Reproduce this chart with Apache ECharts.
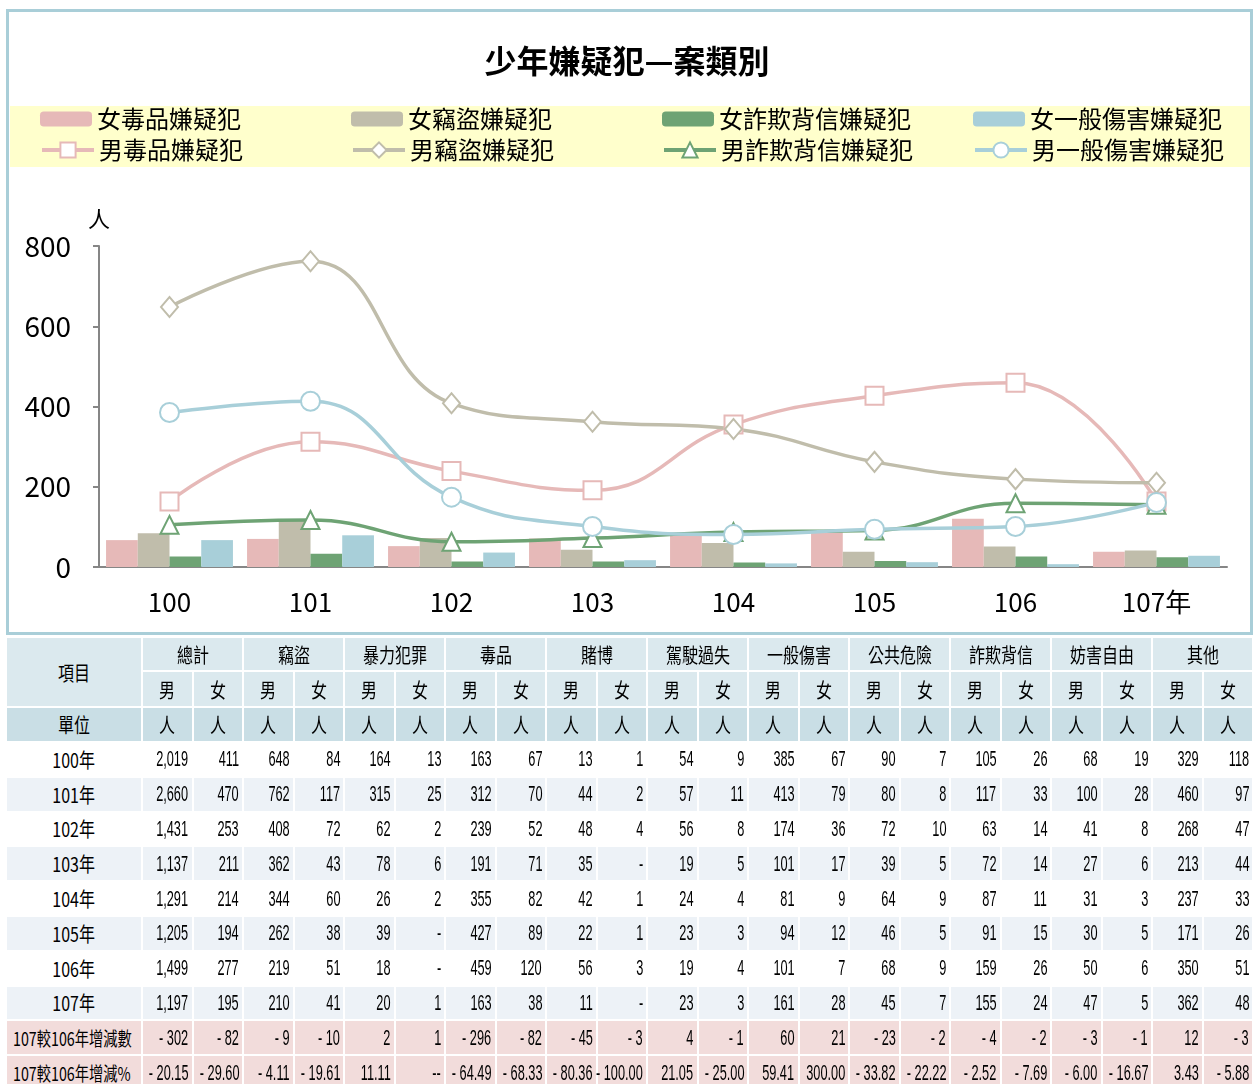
<!DOCTYPE html>
<html>
<head>
<meta charset="utf-8">
<script src="https://cdn.jsdelivr.net/npm/echarts@6/dist/echarts.min.js"></script>
<style>
  body { margin: 0; width: 1254px; height: 1084px; overflow: hidden; background: #fff; position: relative; }
  #chart { position: absolute; left: 0; top: 0; width: 1254px; height: 636px; }
  #frame { position: absolute; left: 6px; top: 9px; width: 1247px; height: 626px; border: 3px solid #a9ced8; box-sizing: border-box; pointer-events: none; }
  #tbl { position: absolute; left: 5px; top: 636px; border-collapse: collapse; table-layout: fixed; width: 1249px; color: #000; }
  #tbl td { border: 2px solid #fff; padding: 0; overflow: visible; white-space: nowrap; }
  #tbl .c { display: flex; justify-content: center; }
  #tbl .r { display: flex; justify-content: flex-end; padding-right: 3px; }
  #tbl .l { display: flex; justify-content: flex-start; padding-left: 6px; }
  #tbl span { display: inline-block; flex-shrink: 0; }
  .cjk { font-family: 'Noto Sans CJK TC', sans-serif; font-size: 20px; transform: scaleX(0.8); }
  .num { font-family: 'Liberation Sans', sans-serif; font-size: 22px; transform: scaleX(0.58); transform-origin: right center; }
  .lab { font-family: 'Noto Sans CJK TC', sans-serif; font-size: 19px; transform: scaleX(0.75); transform-origin: left center; }
  tr.hd td { background: #dbe9ee; }
  tr.unit td { background: #c9dee5; }
  tr.odd td { background: #ffffff; border-color: #e4eef2; }
  tr.even td { background: #edf2f7; }
  tr.diff td { background: #f2dcdb; }
</style>
</head>
<body>
<div id="chart"></div>
<div id="frame"></div>
<table id="tbl"></table>
<script>
// chart data (persons)
const years = ['100', '101', '102', '103', '104', '105', '106', '107年'];
const femaleDrug = [67, 70, 52, 71, 82, 89, 120, 38];
const femaleTheft = [84, 117, 72, 43, 60, 38, 51, 41];
const femaleFraud = [26, 33, 14, 14, 11, 15, 26, 24];
const femaleInjury = [67, 79, 36, 17, 9, 12, 7, 28];
const maleDrug = [163, 312, 239, 191, 355, 427, 459, 163];
const maleTheft = [648, 762, 408, 362, 344, 262, 219, 210];
const maleFraud = [105, 117, 63, 72, 87, 91, 159, 155];
const maleInjury = [385, 413, 174, 101, 81, 94, 101, 161];
const yTicks = [0, 200, 400, 600, 800];

// table data, null = '-'
const tableCats = ['總計', '竊盜', '暴力犯罪', '毒品', '賭博', '駕駛過失', '一般傷害', '公共危險', '詐欺背信', '妨害自由', '其他'];
const rowLabels = ['100年', '101年', '102年', '103年', '104年', '105年', '106年', '107年'];
const row100 = [2019, 411, 648, 84, 164, 13, 163, 67, 13, 1, 54, 9, 385, 67, 90, 7, 105, 26, 68, 19, 329, 118];
const row101 = [2660, 470, 762, 117, 315, 25, 312, 70, 44, 2, 57, 11, 413, 79, 80, 8, 117, 33, 100, 28, 460, 97];
const row102 = [1431, 253, 408, 72, 62, 2, 239, 52, 48, 4, 56, 8, 174, 36, 72, 10, 63, 14, 41, 8, 268, 47];
const row103 = [1137, 211, 362, 43, 78, 6, 191, 71, 35, null, 19, 5, 101, 17, 39, 5, 72, 14, 27, 6, 213, 44];
const row104 = [1291, 214, 344, 60, 26, 2, 355, 82, 42, 1, 24, 4, 81, 9, 64, 9, 87, 11, 31, 3, 237, 33];
const row105 = [1205, 194, 262, 38, 39, null, 427, 89, 22, 1, 23, 3, 94, 12, 46, 5, 91, 15, 30, 5, 171, 26];
const row106 = [1499, 277, 219, 51, 18, null, 459, 120, 56, 3, 19, 4, 101, 7, 68, 9, 159, 26, 50, 6, 350, 51];
const row107 = [1197, 195, 210, 41, 20, 1, 163, 38, 11, null, 23, 3, 161, 28, 45, 7, 155, 24, 47, 5, 362, 48];
const diffCount = [-302, -82, -9, -10, 2, 1, -296, -82, -45, -3, 4, -1, 60, 21, -23, -2, -4, -2, -3, -1, 12, -3];
const diffPct = [-20.15, -29.60, -4.11, -19.61, 11.11, null, -64.49, -68.33, -80.36, -100.00, 21.05, -25.00, 59.41, 300.00, -33.82, -22.22, -2.52, -7.69, -6.00, -16.67, 3.43, -5.88];

const FONT = "'Noto Sans CJK TC', sans-serif";
const PINK = '#e6b9b8', GREY = '#c0bdab', GREEN = '#6ea374', BLUE = '#a8cfd9';

function barSeries(name, data, color) {
  return { name: name, type: 'bar', data: data, barGap: '0%', barCategoryGap: '10%', itemStyle: { color: color } };
}
function lineSeries(name, data, color, symbol, size) {
  return {
    name: name, type: 'line', data: data, smooth: 0.45, symbol: symbol, symbolSize: size,
    lineStyle: { color: color, width: 3.5 },
    itemStyle: { color: '#fff', borderColor: color, borderWidth: 2 },
    z: 3
  };
}

const legendNames = ['女毒品嫌疑犯', '女竊盜嫌疑犯', '女詐欺背信嫌疑犯', '女一般傷害嫌疑犯',
  '男毒品嫌疑犯', '男竊盜嫌疑犯', '男詐欺背信嫌疑犯', '男一般傷害嫌疑犯'];
const legends = legendNames.map(function (n, i) {
  const isLine = i >= 4;
  return {
    data: [n], left: 40 + (i % 4) * 311, top: isLine ? 138 : 107, padding: 0,
    itemWidth: 52, itemHeight: isLine ? 19 : 15, selectedMode: false,
    lineStyle: { width: 4 },
    textStyle: { fontSize: 24, color: '#000', fontFamily: FONT }
  };
});

const chart = echarts.init(document.getElementById('chart'));
chart.setOption({
  animation: false,
  textStyle: { fontFamily: FONT },
  title: { text: '少年嫌疑犯—案類別', left: 'center', top: 40, textStyle: { fontSize: 32, fontWeight: 'bold', color: '#000', fontFamily: FONT } },
  graphic: [{ type: 'rect', shape: { x: 10, y: 106, width: 1240, height: 61 }, style: { fill: '#ffffcc' }, silent: true, z: -10 }],
  legend: legends,
  grid: { left: 99, right: 27, top: 246, bottom: 69 },
  xAxis: {
    type: 'category', data: years,
    axisLine: { lineStyle: { color: '#868686', width: 2 } },
    axisTick: { length: 8, lineStyle: { color: '#868686', width: 2 } },
    axisLabel: { fontSize: 26, color: '#000', margin: 22 }
  },
  yAxis: {
    type: 'value', min: yTicks[0], max: yTicks[yTicks.length - 1], interval: 200,
    name: '人', nameLocation: 'end', nameGap: 16,
    nameTextStyle: { fontSize: 22, color: '#000', align: 'center' },
    axisLine: { show: true, lineStyle: { color: '#868686', width: 2 } },
    axisTick: { show: true, length: 6, lineStyle: { color: '#868686', width: 2 } },
    splitLine: { show: false },
    axisLabel: { fontSize: 28, color: '#000', margin: 28 }
  },
  series: [
    barSeries('女毒品嫌疑犯', femaleDrug, PINK),
    barSeries('女竊盜嫌疑犯', femaleTheft, GREY),
    barSeries('女詐欺背信嫌疑犯', femaleFraud, GREEN),
    barSeries('女一般傷害嫌疑犯', femaleInjury, BLUE),
    lineSeries('男毒品嫌疑犯', maleDrug, PINK, 'rect', 18),
    lineSeries('男竊盜嫌疑犯', maleTheft, GREY, 'diamond', [17, 20]),
    lineSeries('男詐欺背信嫌疑犯', maleFraud, GREEN, 'triangle', [18, 18]),
    lineSeries('男一般傷害嫌疑犯', maleInjury, BLUE, 'circle', 19)
  ]
});

// table
function fmtCount(v) {
  if (v === null) return '-';
  const s = Math.abs(v).toLocaleString('en-US');
  return v < 0 ? '- ' + s : s;
}
function fmtPct(v) {
  if (v === null) return '--';
  const s = Math.abs(v).toFixed(2);
  return v < 0 ? '- ' + s : s;
}
function cell(text, cls, wrap) {
  return '<td><div class="' + wrap + '"><span class="' + cls + '">' + text + '</span></div></td>';
}
let html = '<colgroup><col style="width:136px">';
for (let i = 0; i < 22; i++) html += '<col style="width:50.5px">';
html += '</colgroup>';
html += '<tr class="hd" style="height:34px"><td rowspan="2"><div class="c"><span class="cjk">項目</span></div></td>';
tableCats.forEach(function (c) { html += '<td colspan="2"><div class="c"><span class="cjk">' + c + '</span></div></td>'; });
html += '</tr><tr class="hd" style="height:36px">';
tableCats.forEach(function () { html += cell('男', 'cjk', 'c') + cell('女', 'cjk', 'c'); });
html += '</tr><tr class="unit" style="height:35px">' + cell('單位', 'cjk', 'c');
for (let i = 0; i < 22; i++) html += cell('人', 'cjk', 'c');
html += '</tr>';
const dataRows = [row100, row101, row102, row103, row104, row105, row106, row107];
dataRows.forEach(function (row, r) {
  html += '<tr class="' + (r % 2 === 0 ? 'odd' : 'even') + '" style="height:34.8px">' + cell(rowLabels[r], 'cjk', 'c');
  row.forEach(function (v) { html += cell(fmtCount(v), 'num', 'r'); });
  html += '</tr>';
});
html += '<tr class="diff" style="height:34.8px">' + cell('107較106年增減數', 'lab', 'l');
diffCount.forEach(function (v) { html += cell(fmtCount(v), 'num', 'r'); });
html += '</tr><tr class="diff" style="height:34.8px">' + cell('107較106年增減%', 'lab', 'l');
diffPct.forEach(function (v) { html += cell(fmtPct(v), 'num', 'r'); });
html += '</tr>';
document.getElementById('tbl').innerHTML = html;
</script>
</body>
</html>
